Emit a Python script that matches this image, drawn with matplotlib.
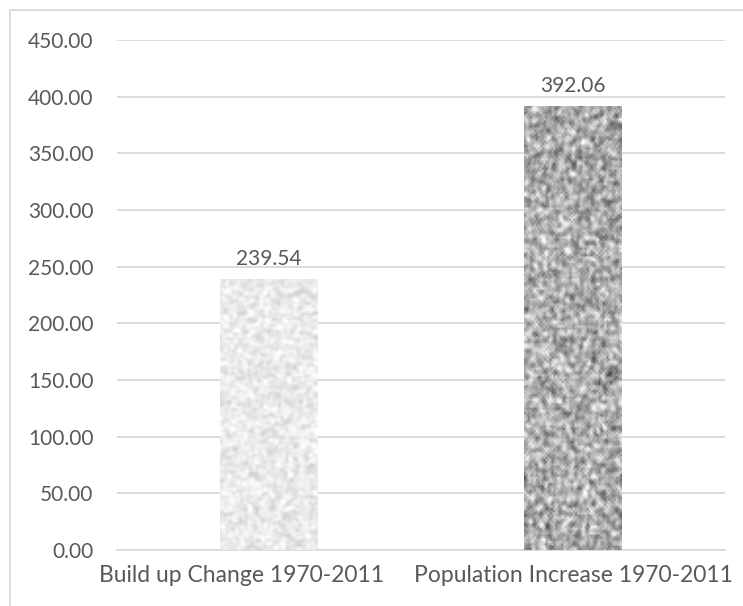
import numpy as np
import matplotlib
matplotlib.use("Agg")
import matplotlib.pyplot as plt
import matplotlib.transforms as mtransforms
from matplotlib.patches import Rectangle

# datos
categories = ["Build up Change 1970-2011", "Population Increase 1970-2011"]
values = [239.54, 392.06]
yticks = [0, 50, 100, 150, 200, 250, 300, 350, 400, 450]

TXT = "#595959"
GRID = "#d9d9d9"
plt.rcParams['font.family'] = ['Lato', 'DejaVu Sans']


def granite(shape, base, spread, blur, seed):
    # textura tipo "granito" de Excel (solo estilo)
    rng = np.random.default_rng(seed)
    img = rng.normal(0, 1, shape)
    for _ in range(blur):
        img = (img + np.roll(img, 1, 0) + np.roll(img, -1, 0)
               + np.roll(img, 1, 1) + np.roll(img, -1, 1)) / 5
    img = (img - img.mean()) / img.std()
    return np.clip(base + spread * img, 0, 1)


fig = plt.figure(figsize=(7.43, 6.06), dpi=100)
ax = fig.add_axes([0.1575, 0.0924, 0.8183, 0.8416])

x = np.arange(len(categories))
bars = ax.bar(x, values, width=0.32, color="none", edgecolor="none", zorder=3)

textures = [granite((180, 60), 0.92, 0.035, 2, 1),
            granite((200, 50), 0.68, 0.12, 1, 2)]
for b, tex in zip(bars, textures):
    x0, w, h = b.get_x(), b.get_width(), b.get_height()
    im = ax.imshow(tex, cmap="gray", vmin=0, vmax=1, aspect="auto",
                   extent=(x0, x0 + w, 0, h), interpolation="bilinear", zorder=3)
    im.set_clip_path(b)

for b, v in zip(bars, values):
    ax.annotate(f"{v:.2f}", (b.get_x() + b.get_width() / 2, v),
                xytext=(0, 7), textcoords="offset points",
                ha="center", va="bottom", fontsize=15, color=TXT)

ax.set_xlim(-0.5, 1.5)
ax.set_ylim(0, 450)
ax.set_yticks(yticks)
ax.set_yticklabels([f"{t:.2f}" for t in yticks])
ax.set_xticks(x)
ax.set_xticklabels(categories)
ax.tick_params(axis="y", length=0, pad=17, labelsize=15, labelcolor=TXT)
ax.tick_params(axis="x", length=0, pad=11, labelsize=16.5, labelcolor=TXT)

# Excel desplaza la primera etiqueta a la izquierda para que no se solapen
lbl = ax.get_xticklabels()[0]
lbl.set_transform(lbl.get_transform() +
                  mtransforms.ScaledTranslation(-28 / 100, 0, fig.dpi_scale_trans))

ax.grid(axis="y", color=GRID, linewidth=1.3, zorder=0)
ax.set_axisbelow(True)
for s in ["top", "right", "left"]:
    ax.spines[s].set_visible(False)
ax.spines["bottom"].set_color(GRID)
ax.spines["bottom"].set_linewidth(1.3)

# marco del gráfico
fig.patches.append(Rectangle((10 / 743, -0.05), 1.1, 1 - 10 / 606 + 0.05,
                             transform=fig.transFigure, fill=False,
                             edgecolor=GRID, linewidth=1.3))

fig.savefig("out.png", dpi=100)
